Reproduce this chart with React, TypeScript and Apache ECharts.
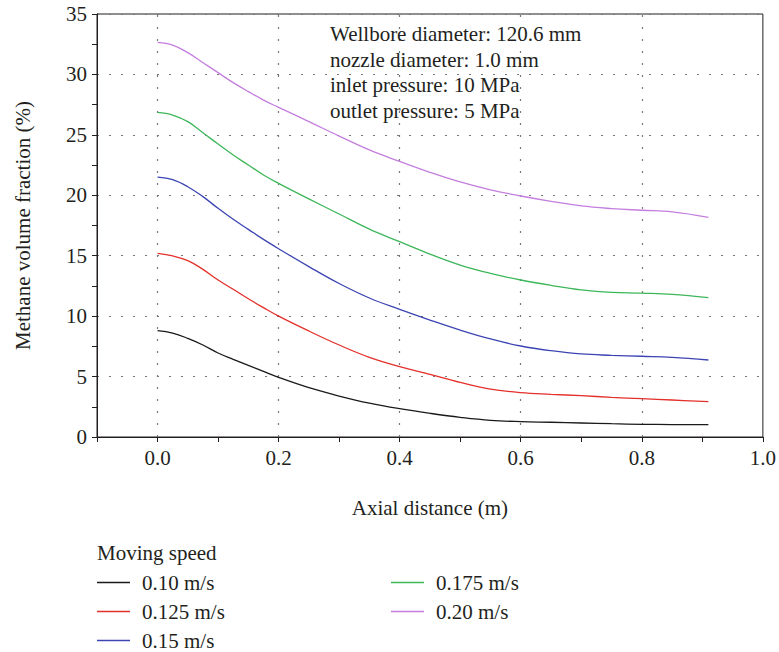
import React, { useEffect, useRef } from "react";
import * as echarts from "echarts";

const xs = [0, 0.025, 0.05, 0.075, 0.1, 0.125, 0.15, 0.175, 0.2, 0.25, 0.3, 0.35, 0.4, 0.45, 0.5, 0.55, 0.6, 0.65, 0.7, 0.75, 0.8, 0.85, 0.91];
const s010 = [8.8, 8.6, 8.16, 7.61, 6.95, 6.43, 5.93, 5.43, 4.93, 4.08, 3.39, 2.8, 2.34, 1.96, 1.63, 1.38, 1.27, 1.22, 1.16, 1.1, 1.05, 1.03, 1.02];
const s0125 = [15.2, 14.98, 14.59, 13.87, 12.99, 12.22, 11.44, 10.7, 10.0, 8.77, 7.61, 6.59, 5.82, 5.19, 4.52, 3.97, 3.67, 3.53, 3.42, 3.28, 3.17, 3.06, 2.92];
const s015 = [21.51, 21.29, 20.71, 19.89, 18.92, 18.01, 17.18, 16.35, 15.58, 14.1, 12.7, 11.5, 10.56, 9.68, 8.85, 8.11, 7.53, 7.14, 6.87, 6.76, 6.68, 6.59, 6.37];
const s0175 = [26.86, 26.64, 26.09, 25.18, 24.24, 23.33, 22.51, 21.68, 20.99, 19.7, 18.45, 17.2, 16.16, 15.14, 14.23, 13.54, 12.99, 12.55, 12.18, 11.97, 11.9, 11.8, 11.53];
const s020 = [32.65, 32.43, 31.8, 30.97, 30.15, 29.32, 28.58, 27.88, 27.28, 26.1, 24.9, 23.75, 22.8, 21.9, 21.1, 20.45, 19.94, 19.5, 19.12, 18.9, 18.76, 18.63, 18.18];

const seriesNames = ["0.10 m/s", "0.125 m/s", "0.15 m/s", "0.175 m/s", "0.20 m/s"];
const seriesValues = [s010, s0125, s015, s0175, s020];
const seriesColors = ["#1a1a1a", "#e4302a", "#3c45b3", "#3db75a", "#c47ede"];
const vGridX = [0, 0.2, 0.4, 0.6, 0.8];
const infoLines = [
  "Wellbore diameter: 120.6 mm",
  "nozzle diameter: 1.0 mm",
  "inlet pressure: 10 MPa",
  "outlet pressure: 5 MPa",
];

const FONT = "'Liberation Serif', 'DejaVu Serif', serif";
const TXT = "#231f20";
const FS = 21;

export default function App() {
  const ref = useRef<HTMLDivElement>(null);
  useEffect(() => {
    if (!ref.current) return;
    const chart = echarts.init(ref.current, undefined, { renderer: "svg" });
    const series: any[] = seriesNames.map((name, i) => ({
      name,
      type: "line",
      smooth: 0.4,
      showSymbol: false,
      symbol: "none",
      data: xs.map((x, j) => [x, seriesValues[i][j]]),
      lineStyle: { color: seriesColors[i], width: 1.3 },
      itemStyle: { color: seriesColors[i] },
      z: 3,
    }));
    series[0].markLine = {
      silent: true,
      symbol: "none",
      label: { show: false },
      lineStyle: { color: "#777", type: [2, 10], width: 1.2 },
      data: vGridX.map((v) => ({ xAxis: v })),
      z: 1,
    };
    const legendText = { fontFamily: FONT, fontSize: FS, color: TXT, lineHeight: 20, padding: [0, 0, 0, 7] };
    chart.setOption({
      animation: false,
      textStyle: { fontFamily: FONT },
      grid: {
        left: 97,
        right: 13,
        top: 14,
        bottom: 215,
        show: true,
        borderColor: TXT,
        borderWidth: 1,
      },
      xAxis: {
        type: "value",
        min: -0.1,
        max: 1.0,
        interval: 0.1,
        name: "Axial distance (m)",
        nameLocation: "middle",
        nameGap: 60,
        nameTextStyle: { fontFamily: FONT, fontSize: FS, color: TXT },
        axisLine: { onZero: false, lineStyle: { color: TXT, width: 1 } },
        axisTick: { show: true, length: 5, lineStyle: { color: TXT } },
        axisLabel: {
          fontFamily: FONT,
          fontSize: FS,
          color: TXT,
          margin: 10,
          formatter: (v: number) => {
            const k = Math.round(v * 10);
            return k >= 0 && k % 2 === 0 ? (k / 10).toFixed(1) : "";
          },
        },
        splitLine: { show: false },
      },
      yAxis: {
        type: "value",
        min: 0,
        max: 35,
        interval: 5,
        name: "Methane volume fraction (%)",
        nameLocation: "middle",
        nameGap: 64,
        nameTextStyle: { fontFamily: FONT, fontSize: FS, color: TXT },
        axisLine: { onZero: false, lineStyle: { color: TXT, width: 1 } },
        axisTick: { show: true, length: 5, lineStyle: { color: TXT } },
        minorTick: { show: true, splitNumber: 2, length: 5, lineStyle: { color: TXT } },
        axisLabel: { fontFamily: FONT, fontSize: FS, color: TXT, margin: 10 },
        splitLine: { show: true, lineStyle: { color: "#777", type: [2, 10], width: 1.2 } },
      },
      legend: [
        {
          data: seriesNames.slice(0, 3),
          orient: "vertical",
          left: 97,
          top: 572,
          padding: 0,
          icon: "rect",
          itemWidth: 33,
          itemHeight: 1.5,
          itemGap: 8,
          selectedMode: false,
          textStyle: legendText,
        },
        {
          data: seriesNames.slice(3),
          orient: "vertical",
          left: 391,
          top: 572,
          padding: 0,
          icon: "rect",
          itemWidth: 33,
          itemHeight: 1.5,
          itemGap: 8,
          selectedMode: false,
          textStyle: legendText,
        },
      ],
      graphic: [
        {
          type: "text",
          left: 97,
          top: 542,
          style: { text: "Moving speed", fontFamily: FONT, fontSize: FS, fill: TXT },
        },
        {
          type: "text",
          left: 330,
          top: 21,
          z: 10,
          style: {
            text: infoLines.join("\n"),
            fontFamily: FONT,
            fontSize: FS,
            lineHeight: 25.7,
            fill: TXT,
          },
        },
      ],
      series,
    });
    return () => chart.dispose();
  }, []);
  return <div ref={ref} style={{ width: 779, height: 652, position: "absolute", left: 0, top: 0 }} />;
}
